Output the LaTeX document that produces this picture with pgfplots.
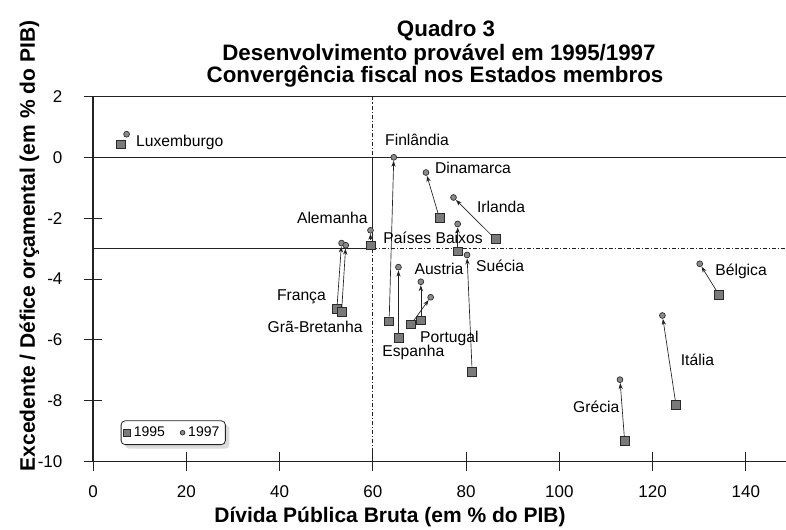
\documentclass[border=0pt]{standalone}
\usepackage{fontspec}
\setmainfont{Liberation Sans}
\usepackage{pgfplots}
\pgfplotsset{compat=1.18}
\usetikzlibrary{arrows.meta,shadows}

\definecolor{sqfill}{HTML}{7A7A7A}
\definecolor{cifill}{HTML}{8A8A8A}
\definecolor{edge}{HTML}{2A2A2A}
\definecolor{ln}{HTML}{222222}
\newcommand\lbl{\fontsize{11.75}{14}\selectfont}
\newcommand\tck{\fontsize{12.75}{15}\selectfont}

\pgfplotsset{
  refline/.style={forget plot, ln, line width=0.8pt},
  dashline/.style={forget plot, ln, line width=0.6pt, dash pattern=on 3pt off 1.5pt on 0.8pt off 1.5pt},
  arr/.style={forget plot, ln, line width=0.5pt, -{Stealth[length=4.5pt,width=3.2pt]}, shorten >=2.6pt, shorten <=3.6pt},
}

\begin{document}
\begin{tikzpicture}
\begin{axis}[
  at={(0,0)}, anchor=south west,
  scale only axis, width=519.75pt, height=273.75pt,
  xmin=0, xmax=148.6, ymin=-10, ymax=2,
  axis line style={draw=none},
  xtick={0,20,40,60,80,100,120,140},
  xticklabels={0,20,40,60,80,100,120,140},
  ytick={-10,-8,-6,-4,-2,0,2},
  yticklabels={-10,-8,-6,-4,-2,0,2},
  xtick pos=bottom, ytick pos=left,
  tick align=center,
  major tick length=14pt,
  every tick/.style={ln, line width=0.7pt},
  xticklabel style={font=\tck, anchor=base, yshift=-20pt, inner sep=0pt},
  yticklabel style={font=\tck, anchor=east, xshift=-15.75pt, inner sep=0pt},
  clip=false,
  legend columns=2,
  legend image code/.code={\draw[mark repeat=2,mark phase=2,#1] plot coordinates {(0cm,0cm)(0.12cm,0cm)(0.24cm,0cm)};},
  legend style={at={(axis cs:5.94,-8.65)}, anchor=north west, draw=ln, line width=0.6pt,
    rounded corners=3pt, fill=white, inner sep=2pt, font=\fontsize{10.5}{12}\selectfont,
    nodes={inner sep=2.5pt},
    /tikz/every even column/.append style={column sep=9pt},
    drop shadow={shadow xshift=3pt, shadow yshift=-3pt, fill=gray!55}},
]
% frame and reference lines
\addplot[refline] coordinates {(0,-10) (0,2)};
\addplot[refline] coordinates {(0,-10) (148.6,-10)};
\addplot[refline] coordinates {(0,2) (148.6,2)};
\addplot[refline] coordinates {(0,0) (148.6,0)};
\addplot[refline] coordinates {(0,-3) (60,-3)};
\addplot[dashline] coordinates {(60,-3) (148.6,-3)};
\addplot[dashline] coordinates {(60,2) (60,0)};
\addplot[refline] coordinates {(60,0) (60,-3)};
\addplot[dashline] coordinates {(60,-3) (60,-10)};

% arrows 1995 -> 1997
\addplot[arr] coordinates {(59.5,-2.89) (59.5,-2.40)};   % Alemanha
\addplot[arr] coordinates {(63.5,-5.39) (64.5,0.0)};     % Finlandia
\addplot[arr] coordinates {(65.5,-5.93) (65.5,-3.61)};   % Espanha
\addplot[arr] coordinates {(74.3,-2.0) (71.4,-0.50)};    % Dinamarca
\addplot[arr] coordinates {(86.3,-2.69) (77.3,-1.32)};   % Irlanda
\addplot[arr] coordinates {(78.2,-3.09) (78.2,-2.19)};   % Paises Baixos
\addplot[arr] coordinates {(81.3,-7.04) (80.2,-3.21)};   % Suecia
\addplot[arr] coordinates {(70.3,-5.36) (70.3,-4.09)};   % Austria
\addplot[arr] coordinates {(68.2,-5.49) (72.4,-4.60)};   % Portugal
\addplot[arr] coordinates {(52.3,-4.98) (53.3,-2.82)};   % Franca
\addplot[arr] coordinates {(53.3,-5.09) (54.2,-2.89)};   % Gra-Bretanha
\addplot[arr] coordinates {(134.2,-4.51) (130.1,-3.50)}; % Belgica
\addplot[arr] coordinates {(125.0,-8.13) (122.1,-5.20)}; % Italia
\addplot[arr] coordinates {(114.0,-9.33) (113.0,-7.31)}; % Grecia

% 1995 squares
\addplot[forget plot, only marks, mark=square*, mark size=3.3pt,
  mark options={fill=sqfill, draw=edge, line width=0.5pt}] table {
x y
6.0 0.43
59.5 -2.89
63.5 -5.39
65.5 -5.93
74.3 -2.0
86.3 -2.69
78.2 -3.09
81.3 -7.04
70.3 -5.36
68.2 -5.49
52.3 -4.98
53.3 -5.09
134.2 -4.51
125.0 -8.13
114.0 -9.33
};
% 1997 circles
\addplot[forget plot, only marks, mark=*, mark size=2.2pt,
  mark options={fill=cifill, draw=edge, line width=0.5pt}] table {
x y
7.2 0.76
59.5 -2.40
64.5 0.0
65.5 -3.61
71.4 -0.50
77.3 -1.32
78.2 -2.19
80.2 -3.21
70.3 -4.09
72.4 -4.60
53.3 -2.82
54.2 -2.89
130.1 -3.50
122.1 -5.20
113.0 -7.31
};

\addlegendimage{only marks, mark=square*, mark size=2.5pt, mark options={fill=sqfill, draw=edge, line width=0.5pt}}
\addlegendentry{1995}
\addlegendimage{only marks, mark=*, mark size=1.75pt, mark options={fill=cifill, draw=edge, line width=0.5pt}}
\addlegendentry{1997\hspace{6pt}}

% country labels
\begin{scope}[every node/.style={anchor=base west, inner sep=0pt, font=\lbl}]
\node at (axis cs:9.2,0.34) {Luxemburgo};
\node at (axis cs:43.7,-2.16) {Alemanha};
\node at (axis cs:62.6,0.39) {Finlândia};
\node at (axis cs:73.3,-0.54) {Dinamarca};
\node at (axis cs:82.3,-1.80) {Irlanda};
\node at (axis cs:62.2,-2.84) {Países Baixos};
\node at (axis cs:82.1,-3.74) {Suécia};
\node at (axis cs:68.9,-3.85) {Austria};
\node at (axis cs:70.1,-6.09) {Portugal};
\node at (axis cs:62.0,-6.56) {Espanha};
\node at (axis cs:39.4,-4.70) {França};
\node at (axis cs:37.4,-5.75) {Grã-Bretanha};
\node at (axis cs:133.4,-3.88) {Bélgica};
\node at (axis cs:126.0,-6.84) {Itália};
\node at (axis cs:102.9,-8.38) {Grécia};
\end{scope}
\end{axis}

% titles
\begin{scope}[every node/.style={anchor=base, inner sep=0pt, font=\fontsize{16.75}{19}\selectfont\bfseries}]
\node at (264.75pt,318.4pt) {Quadro 3};
\node at (259.5pt,301.1pt) {Desenvolvimento provável em 1995/1997};
\node at (256.5pt,283.9pt) {Convergência fiscal nos Estados membros};
\end{scope}
% axis labels
\node[anchor=base, inner sep=0pt, font=\fontsize{15.75}{18}\selectfont\bfseries] at (222.75pt,-45.4pt) {Dívida Pública Bruta (em \% do PIB)};
\node[anchor=base, rotate=90, inner sep=0pt, font=\fontsize{15.75}{18}\selectfont\bfseries] at (-43.5pt,161.6pt) {Excedente / Défice orçamental (em \% do PIB)};

\pgfresetboundingbox
\path[use as bounding box] (-69.75pt,-50.625pt) rectangle (519.75pt,346.125pt);
\end{tikzpicture}
\end{document}
